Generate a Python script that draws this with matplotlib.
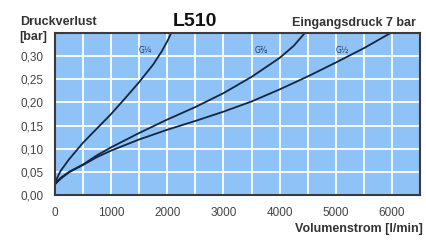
import numpy as np
import matplotlib
matplotlib.use("Agg")
import matplotlib.pyplot as plt
from matplotlib.ticker import FixedLocator, FuncFormatter

# Kennlinien (Volumenstrom l/min -> Druckverlust bar)
flow_g14 = [0, 50, 100, 250, 500, 750, 1000, 1250, 1500, 1750, 1900, 2000, 2070]
dp_g14 = [0.025, 0.040, 0.052, 0.077, 0.113, 0.144, 0.175, 0.209, 0.244, 0.282, 0.310, 0.332, 0.350]

flow_g38 = [0, 50, 100, 250, 500, 750, 1000, 1500, 2000, 2500, 3000, 3500, 4000, 4250, 4450]
dp_g38 = [0.025, 0.031, 0.037, 0.050, 0.066, 0.086, 0.103, 0.134, 0.163, 0.190, 0.220, 0.255, 0.296, 0.322, 0.350]

flow_g12 = [0, 50, 100, 250, 500, 750, 1000, 1500, 2000, 2500, 3000, 3500, 4000, 4500, 5000, 5500, 5950]
dp_g12 = [0.023, 0.029, 0.035, 0.049, 0.065, 0.082, 0.096, 0.120, 0.141, 0.160, 0.180, 0.202, 0.228, 0.256, 0.286, 0.317, 0.348]

labels = ["G¼", "G⅜", "G½"]
label_pos = [(1610, 0.311), (3680, 0.311), (5110, 0.311)]

xticks = [0, 1000, 2000, 3000, 4000, 5000, 6000]
yticks = [0.00, 0.05, 0.10, 0.15, 0.20, 0.25, 0.30]

plt.rcParams['font.family'] = ['Liberation Sans', 'DejaVu Sans']

fig = plt.figure(figsize=(4.26, 2.42), dpi=100)
ax = fig.add_axes([0.129, 0.194, 0.857, 0.670])
ax.set_facecolor('#8fc3f7')

line_col = '#14263f'
for fl, dp in [(flow_g14, dp_g14), (flow_g38, dp_g38), (flow_g12, dp_g12)]:
    ax.plot(fl, dp, color=line_col, lw=1.3, solid_joinstyle='round')

for lab, (lx, ly) in zip(labels, label_pos):
    ax.text(lx, ly, lab, fontsize=5.5, color='#1d3a66', ha='center', va='center',
            family=['DejaVu Sans'])

ax.set_xlim(0, 6500)
ax.set_ylim(0, 0.35)
ax.xaxis.set_major_locator(FixedLocator(xticks))
ax.yaxis.set_major_locator(FixedLocator(yticks))
ax.xaxis.set_minor_locator(FixedLocator([500, 1500, 2500, 3500, 4500, 5500]))
ax.yaxis.set_major_formatter(FuncFormatter(lambda v, p: f"{v:.2f}".replace('.', ',')))
ax.grid(True, which='both', color='#f4fbff', lw=1.4)
ax.set_axisbelow(True)
ax.tick_params(which='both', length=0, labelsize=8.5, colors='#444444', pad=8.5)
for s in ax.spines.values():
    s.set_color('#3a3a3a')
    s.set_linewidth(1.5)

fig.text(0.047, 0.909, "Druckverlust", fontsize=9, fontweight='bold', color='#333333',
         ha='left', va='center')
fig.text(0.045, 0.847, "[bar]", fontsize=9, fontweight='bold', color='#333333',
         ha='left', va='center')
fig.text(0.457, 0.911, "L510", fontsize=14, fontweight='bold', color='#111111',
         ha='center', va='center')
fig.text(0.977, 0.905, "Eingangsdruck 7 bar", fontsize=9, fontweight='bold', color='#333333',
         ha='right', va='center')
fig.text(0.993, 0.054, "Volumenstrom [l/min]", fontsize=9, fontweight='bold', color='#333333',
         ha='right', va='center')

fig.savefig("out.png", dpi=100)
